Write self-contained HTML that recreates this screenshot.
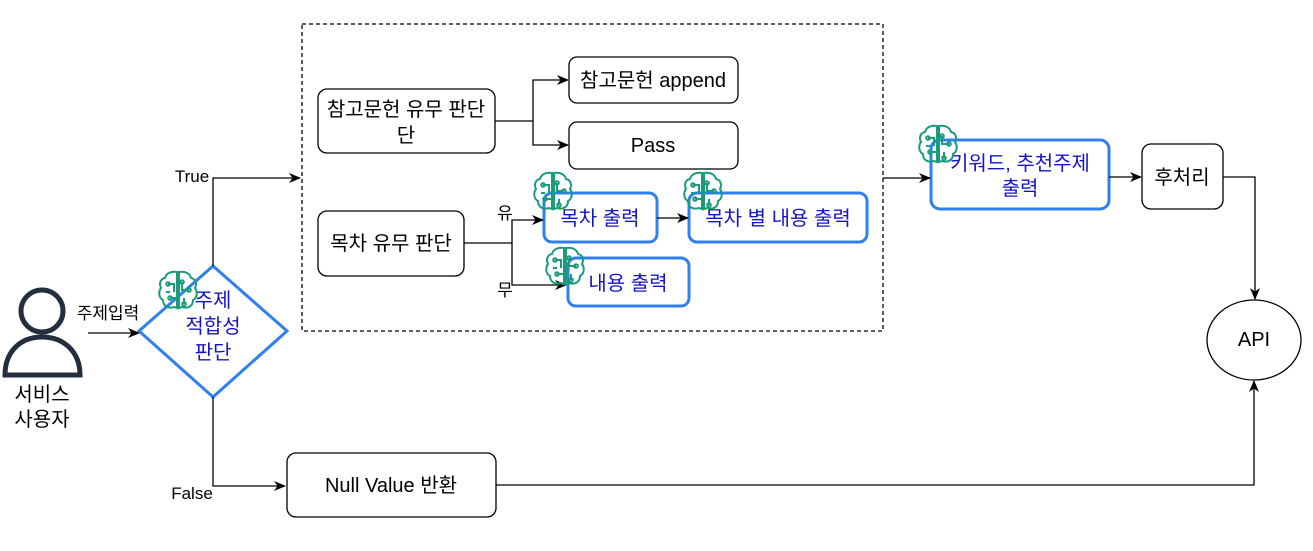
<!DOCTYPE html>
<html><head><meta charset="utf-8"><style>
body{margin:0;background:#fff}
svg text{font-family:"Liberation Sans","Noto Sans CJK KR",sans-serif}
</style></head><body>
<svg width="1313" height="546" viewBox="0 0 1313 546" xmlns="http://www.w3.org/2000/svg">
<defs>
<marker id="a" markerWidth="12" markerHeight="12" refX="11" refY="6" orient="auto" markerUnits="userSpaceOnUse"><path d="M0,1 L12,6 L0,11 L3.5,6 z" fill="#000"/></marker>
<g id="brain" fill="none" stroke="#1a9c7a" stroke-width="2">
<path d="M19,2 C12,1 8,4 7,8 C2,9 1,14 3,18 C0,22 1,28 5,30 C5,36 10,39 16,37 L19,38 Z"/>
<path d="M21,2 C28,1 32,4 33,8 C38,9 39,14 37,18 C40,22 39,28 35,30 C35,36 30,39 24,37 L21,38 Z"/>
<path d="M10,14 h6 v8 M24,12 v8 h7 M12,28 h6 M26,28 v6 M8,22 h4"/>
<circle cx="10" cy="14" r="1.8"/><circle cx="31" cy="20" r="1.8"/><circle cx="12" cy="28" r="1.8"/><circle cx="26" cy="34" r="1.8"/><circle cx="24" cy="12" r="1.8"/>
</g>
</defs>
<rect x="302" y="24" width="581" height="307" fill="none" stroke="#000" stroke-dasharray="4 3" stroke-width="1.3"/>
<g fill="#fff" stroke="#000" stroke-width="1.3">
<rect x="318" y="89" width="177" height="64" rx="9"/>
<rect x="569" y="57" width="169" height="46" rx="8"/>
<rect x="569" y="122" width="169" height="47" rx="8"/>
<rect x="318" y="211" width="146" height="65" rx="9"/>
<rect x="1142" y="144" width="81" height="65" rx="9"/>
<rect x="287" y="453" width="209" height="64" rx="9"/>
<ellipse cx="1254" cy="340" rx="47" ry="40"/>
</g>
<g fill="#fff" stroke="#2f7ff0" stroke-width="3">
<rect x="544" y="193" width="113" height="49" rx="8"/>
<rect x="689" y="193" width="178" height="49" rx="8"/>
<rect x="568" y="258" width="121" height="48" rx="8"/>
<rect x="931" y="140" width="178" height="69" rx="9"/>
<path d="M213,266 L287,331 L213,397 L139,331 Z"/>
</g>
<g fill="none" stroke="#232f3e" stroke-width="5">
<circle cx="42" cy="311" r="21"/>
<path d="M5,375 C5,352 20,337 42,337 C64,337 80,352 80,375 Z"/>
</g>
<g fill="none" stroke="#000" stroke-width="1.3">
<path d="M88,333 H139" marker-end="url(#a)"/>
<path d="M213,266 V178 H300" marker-end="url(#a)"/>
<path d="M213,397 V486 H285" marker-end="url(#a)"/>
<path d="M495,121 H533 V80 H568" marker-end="url(#a)"/>
<path d="M533,121 V145 H568" marker-end="url(#a)"/>
<path d="M464,243 H512 V220 H543" marker-end="url(#a)"/>
<path d="M512,243 V285 H566" marker-end="url(#a)"/>
<path d="M657,218 H688" marker-end="url(#a)"/>
<path d="M883,178 H930" marker-end="url(#a)"/>
<path d="M1109,177 H1141" marker-end="url(#a)"/>
<path d="M1223,177 H1255 V299" marker-end="url(#a)"/>
<path d="M496,485 H1254 V381" marker-end="url(#a)"/>
</g>
<g font-size="20" fill="#000" text-anchor="middle">
<text x="406" y="116">참고문헌 유무 판단</text>
<text x="406" y="142">단</text>
<text x="653" y="87">참고문헌 append</text>
<text x="653" y="152">Pass</text>
<text x="391" y="250">목차 유무 판단</text>
<text x="1182" y="184">후처리</text>
<text x="391" y="492">Null Value 반환</text>
<text x="1254" y="346">API</text>
<text x="42" y="401">서비스</text>
<text x="42" y="426">사용자</text>
</g>
<g font-size="17" fill="#000" text-anchor="middle">
<text x="108" y="319">주제입력</text>
<text x="192" y="182">True</text>
<text x="192" y="499">False</text>
<text x="505" y="219">유</text>
<text x="505" y="296">무</text>
</g>
<g font-size="20" fill="#1414c8" text-anchor="middle">
<text x="600" y="225">목차 출력</text>
<text x="778" y="225">목차 별 내용 출력</text>
<text x="628" y="290">내용 출력</text>
<text x="1020" y="170">키워드, 추천주제</text>
<text x="1020" y="195">출력</text>
<text x="213" y="307">주제</text>
<text x="213" y="333">적합성</text>
<text x="213" y="359">판단</text>
</g>
<use href="#brain" x="533" y="171"/>
<use href="#brain" x="683" y="171"/>
<use href="#brain" x="545" y="246"/>
<use href="#brain" x="158" y="270"/>
<use href="#brain" x="918" y="124"/>
</svg>
</body></html>
